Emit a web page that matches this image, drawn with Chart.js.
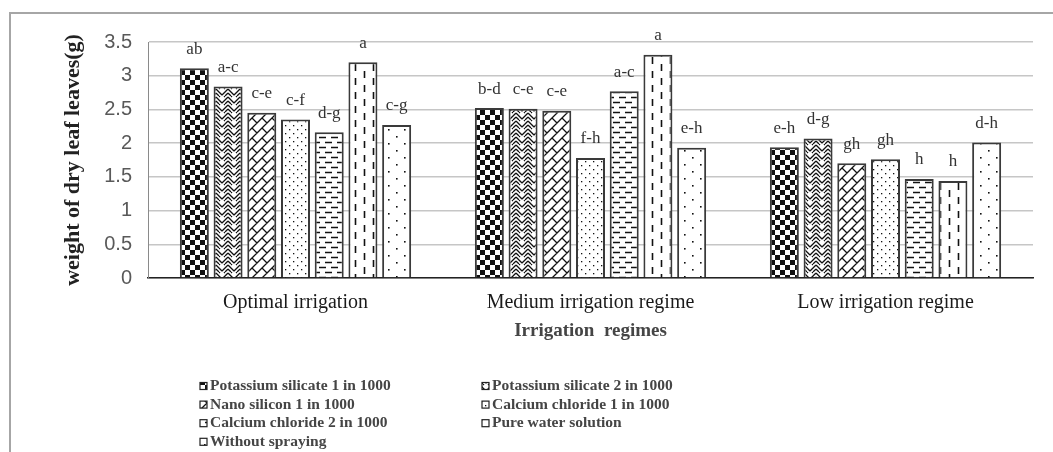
<!DOCTYPE html>
<html>
<head>
<meta charset="utf-8">
<script src="https://cdn.jsdelivr.net/npm/chart.js@4.4.0/dist/chart.umd.min.js"></script>
<style>
  html, body { margin: 0; padding: 0; background: #fff; overflow: hidden; }
  #wrap { position: relative; width: 1053px; height: 452px; overflow: hidden; }
  #frame { position: absolute; left: 9px; top: 12px; width: 1200px; height: 600px;
           border-left: 2px solid #a6a6a6; border-top: 2px solid #a6a6a6; }
  #chart { position: absolute; left: 0; top: 0; }
</style>
</head>
<body>
<div id="wrap">
  <div id="frame"></div>
  <canvas id="chart" width="1053" height="452"></canvas>
</div>
<script>
  // Datos
  const regimes = ["Optimal irrigation", "Medium irrigation regime", "Low irrigation regime"];
  const treatments = [
    "Potassium silicate 1 in 1000",
    "Potassium silicate 2 in 1000",
    "Nano silicon 1 in 1000",
    "Calcium chloride 1 in 1000",
    "Calcium chloride 2 in 1000",
    "Pure water solution",
    "Without spraying",
  ];
  const potSil1 = [3.11, 2.52, 1.94];
  const potSil2 = [2.84, 2.51, 2.07];
  const nanoSil = [2.45, 2.48, 1.70];
  const calCl1 = [2.35, 1.78, 1.76];
  const calCl2 = [2.16, 2.77, 1.47];
  const pureWater = [3.20, 3.31, 1.44];
  const noSpray = [2.27, 1.93, 2.01];
  const letters = [
    ["ab", "b-d", "e-h"],
    ["a-c", "c-e", "d-g"],
    ["c-e", "c-e", "gh"],
    ["c-f", "f-h", "gh"],
    ["d-g", "a-c", "h"],
    ["a", "a", "h"],
    ["c-g", "e-h", "d-h"],
  ];
  const yTicks = [0, 0.5, 1, 1.5, 2, 2.5, 3, 3.5];

  // Tramas de relleno
  function tile(w, h, draw) {
    const c = document.createElement("canvas");
    c.width = w; c.height = h;
    const g = c.getContext("2d");
    g.fillStyle = "#fff";
    g.fillRect(0, 0, w, h);
    g.fillStyle = "#111";
    g.strokeStyle = "#111";
    g.lineWidth = 1.3;
    draw(g);
    return g.createPattern(c, "repeat");
  }
  function lines(g, segs) {
    g.beginPath();
    segs.forEach(s => { g.moveTo(s[0], s[1]); g.lineTo(s[2], s[3]); });
    g.stroke();
  }

  const patterns = [
    tile(10, 10, g => { g.fillRect(0, 0, 5, 5); g.fillRect(5, 5, 5, 5); }),
    tile(12, 8, g => lines(g, [[0, 1, 6, 7], [6, 7, 12, 1], [0, 5, 3, 8], [12, 5, 9, 8], [3, 0, 4, 1], [9, 0, 8, 1]])),
    tile(10, 10, g => lines(g, [[0, 10, 10, 0], [-2, 2, 2, -2], [8, 12, 12, 8], [2, 8, 7, 13], [2, -2, 7, 3]])),
    tile(8, 8, g => { g.fillRect(1, 1, 1.3, 1.3); g.fillRect(5, 5, 1.3, 1.3); }),
    tile(12, 10, g => { g.lineWidth = 1.6; lines(g, [[1, 2.5, 8, 2.5], [7, 7.5, 12, 7.5], [0, 7.5, 2, 7.5]]); }),
    tile(18, 14, g => { g.lineWidth = 1.6; lines(g, [[4.5, 1, 4.5, 8], [13.5, 8, 13.5, 14], [13.5, 0, 13.5, 1]]); }),
    tile(16, 14, g => { g.fillRect(4, 3, 1.6, 1.6); g.fillRect(12, 10, 1.6, 1.6); }),
  ];

  const series = [potSil1, potSil2, nanoSil, calCl1, calCl2, pureWater, noSpray];

  // Letras sobre las barras
  const letterPlugin = {
    id: "letterPlugin",
    afterDatasetsDraw(chart) {
      const ctx = chart.ctx;
      ctx.save();
      ctx.font = '17px "Liberation Serif"';
      ctx.fillStyle = "#333";
      ctx.textAlign = "center";
      ctx.textBaseline = "middle";
      chart.data.datasets.forEach((ds, i) => {
        chart.getDatasetMeta(i).data.forEach((bar, j) => {
          ctx.fillText(ds.letters[j], bar.x, bar.y - 19);
        });
      });
      ctx.restore();
    },
  };

  // Leyenda en dos columnas
  const legendPlugin = {
    id: "legendPlugin",
    afterDraw(chart) {
      const ctx = chart.ctx;
      ctx.save();
      ctx.font = 'bold 15.5px "Liberation Serif"';
      ctx.textBaseline = "middle";
      chart.data.datasets.forEach((ds, i) => {
        const x = i % 2 === 0 ? 200 : 482;
        const y = 386 + Math.floor(i / 2) * 18.6;
        ctx.fillStyle = ds.backgroundColor;
        ctx.fillRect(x, y - 3.5, 7, 7);
        ctx.strokeStyle = "#222";
        ctx.lineWidth = 1.2;
        ctx.strokeRect(x, y - 3.5, 7, 7);
        ctx.fillStyle = "#454545";
        ctx.fillText(ds.label, x + 10, y);
      });
      ctx.restore();
    },
  };

  const ctx = document.getElementById("chart").getContext("2d");
  new Chart(ctx, {
    type: "bar",
    data: {
      labels: regimes,
      datasets: treatments.map((name, i) => ({
        label: name,
        data: series[i],
        letters: letters[i],
        backgroundColor: patterns[i],
        borderColor: "#3a3a3a",
        borderWidth: 2,
        categoryPercentage: 0.8,
        barPercentage: 0.86,
      })),
    },
    options: {
      responsive: false,
      animation: false,
      layout: { padding: { left: 0, top: 42, right: 20, bottom: 110 } },
      plugins: {
        legend: { display: false },
        tooltip: { enabled: false },
      },
      scales: {
        x: {
          grid: { display: false },
          border: { color: "#222", width: 1.5 },
          ticks: {
            padding: 5,
            color: "#1a1a1a",
            font: { family: "Liberation Serif", size: 20 },
          },
          title: {
            display: true,
            text: "Irrigation  regimes",
            color: "#454545",
            font: { family: "Liberation Serif", size: 19, weight: "bold" },
            padding: { top: 0, bottom: 0 },
          },
          afterFit(scale) { scale.height = 64; },
        },
        y: {
          min: 0,
          max: 3.5,
          afterBuildTicks(scale) { scale.ticks = yTicks.map(v => ({ value: v })); },
          grid: {
            drawTicks: false,
            color: "#c6c6c6",
            lineWidth: 1.5,
          },
          border: { color: "#8a8a8a", width: 1 },
          ticks: {
            padding: 16,
            color: "#595959",
            font: { family: "Liberation Sans", size: 20 },
            callback: v => String(v),
          },
          title: {
            display: true,
            text: "weight of dry leaf leaves(g)",
            color: "#222",
            font: { family: "Liberation Serif", size: 22, weight: "bold" },
            padding: { top: 60, bottom: 0 },
          },
          afterFit(scale) { scale.width = 148; },
        },
      },
    },
    plugins: [letterPlugin, legendPlugin],
  });
</script>
</body>
</html>
